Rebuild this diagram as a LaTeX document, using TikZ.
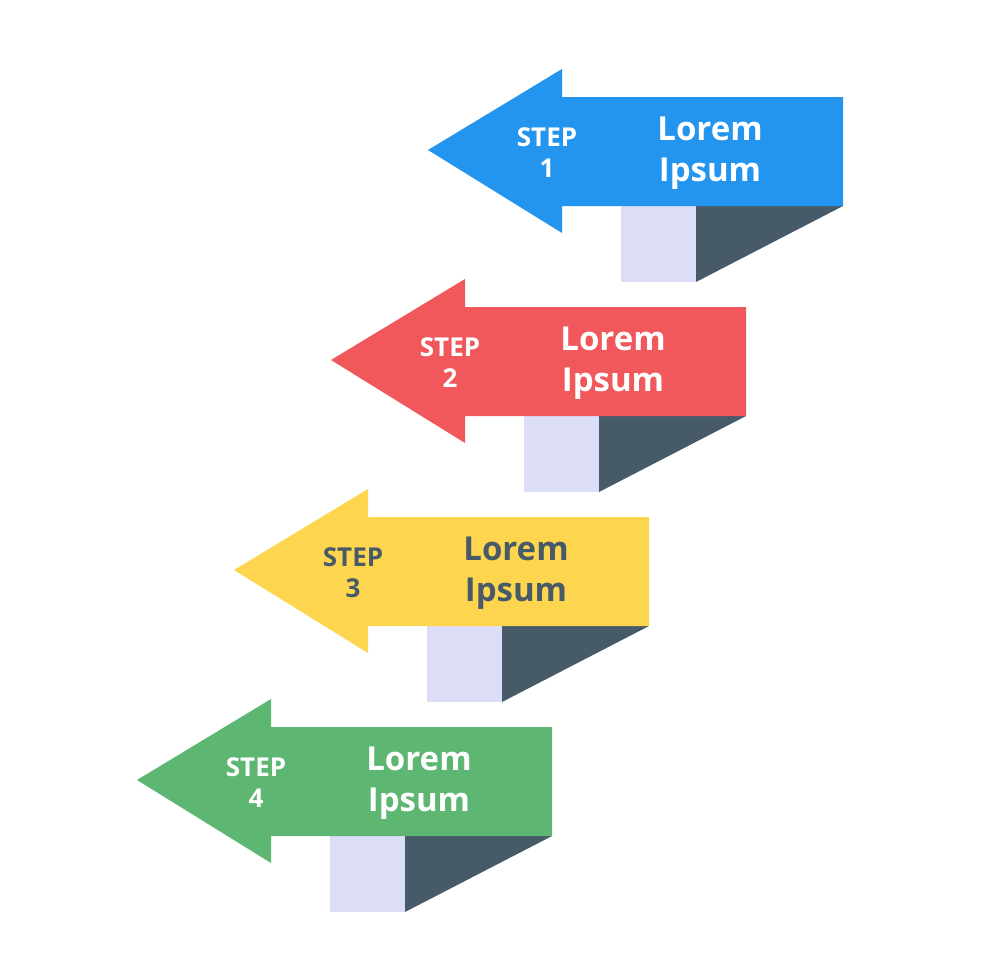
\documentclass[tikz,border=0pt]{standalone}
\usepackage{fontspec}
\setmainfont{Open Sans}[UprightFont=* Bold, BoldFont=* Bold]
\definecolor{cblue}{HTML}{2395EE}
\definecolor{cred}{HTML}{F0585C}
\definecolor{cyellow}{HTML}{FDD54F}
\definecolor{cgreen}{HTML}{5DB671}
\definecolor{clight}{HTML}{DCDEF8}
\definecolor{cdark}{HTML}{475A67}
\tikzset{
  steptxt/.style={font=\fontsize{26}{30}\selectfont, anchor=base, inner sep=0pt},
  lorem/.style={font=\fontsize{33}{40}\selectfont, anchor=base, inner sep=0pt},
}
\newcommand{\steparrow}[5]{%
  \begin{scope}[shift={(#1,#2)}]
    \fill[clight] (621,206) rectangle (696,282);
    \fill[cdark] (696,206) -- (843,206) -- (696,282) -- cycle;
    \fill[#3] (428,150) -- (562,69) -- (562,97) -- (843,97) -- (843,206) -- (562,206) -- (562,233) -- cycle;
    \node[steptxt, text=#4] (sa#5) at (547,146) {STEP};
    \node[steptxt, text=#4] (sb#5) at (547,177) {#5};
    \node[lorem, text=#4] (la#5) at (710,140) {Lorem};
    \node[lorem, text=#4] (lb#5) at (710,181) {Ipsum};
  \end{scope}}
\begin{document}
\begin{tikzpicture}[x=1pt,y=-1pt]
  \useasboundingbox (0,0) rectangle (980,980);
  \steparrow{0}{0}{cblue}{white}{1}
  \steparrow{-97}{210}{cred}{white}{2}
  \steparrow{-194}{420}{cyellow}{cdark}{3}
  \steparrow{-291}{630}{cgreen}{white}{4}
\end{tikzpicture}
\end{document}
